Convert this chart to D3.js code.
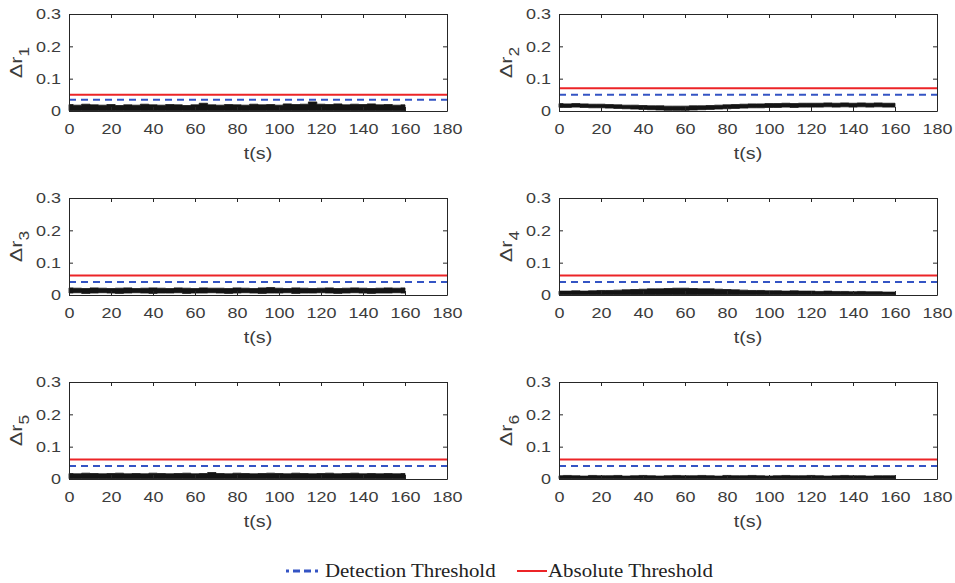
<!DOCTYPE html>
<html>
<head>
<meta charset="utf-8">
<script src="https://cdn.jsdelivr.net/npm/d3@7"></script>
<style>
  html, body { margin: 0; padding: 0; background: #fff; }
  svg { display: block; }
  .tick text { font-family: "Liberation Sans", Arial, sans-serif; }
</style>
</head>
<body>
<svg id="chart" width="955" height="583"></svg>
<script>
// Sample times (s) of the residual envelopes
const times = d3.range(0, 161, 4);

// Upper and lower envelopes of each residual trace |Δr_i(t)|
const upper1 = [0.020,0.018,0.021,0.019,0.018,0.020,0.017,0.019,0.018,0.021,0.019,0.018,0.020,0.019,0.017,0.019,0.024,0.019,0.018,0.020,0.019,0.018,0.021,0.019,0.020,0.018,0.022,0.020,0.021,0.028,0.021,0.020,0.022,0.019,0.021,0.020,0.022,0.019,0.020,0.018,0.019];
const lower1 = [0.001,0.001,0.001,0.001,0.001,0.001,0.001,0.001,0.001,0.001,0.001,0.001,0.001,0.001,0.001,0.001,0.001,0.001,0.001,0.001,0.001,0.001,0.001,0.001,0.001,0.001,0.001,0.001,0.001,0.001,0.001,0.001,0.001,0.001,0.001,0.001,0.001,0.001,0.001,0.001,0.001];

const upper2 = [0.023,0.022,0.023,0.022,0.021,0.021,0.020,0.019,0.018,0.018,0.017,0.016,0.016,0.015,0.015,0.015,0.016,0.016,0.017,0.018,0.019,0.020,0.021,0.022,0.022,0.023,0.023,0.024,0.023,0.024,0.024,0.024,0.025,0.024,0.025,0.024,0.025,0.024,0.025,0.024,0.024];
const lower2 = [0.011,0.011,0.012,0.011,0.010,0.010,0.009,0.008,0.007,0.006,0.005,0.004,0.003,0.002,0.002,0.002,0.003,0.004,0.005,0.006,0.007,0.008,0.009,0.010,0.010,0.011,0.011,0.012,0.011,0.012,0.012,0.012,0.013,0.012,0.013,0.012,0.013,0.012,0.013,0.012,0.012];

const upper3 = [0.022,0.021,0.020,0.022,0.021,0.020,0.021,0.022,0.020,0.021,0.022,0.021,0.020,0.022,0.021,0.020,0.022,0.021,0.021,0.020,0.022,0.021,0.020,0.022,0.023,0.021,0.020,0.022,0.021,0.020,0.021,0.022,0.020,0.021,0.022,0.021,0.020,0.021,0.022,0.021,0.022];
const lower3 = [0.006,0.007,0.005,0.006,0.007,0.006,0.005,0.006,0.007,0.006,0.005,0.006,0.006,0.007,0.005,0.006,0.006,0.007,0.006,0.005,0.006,0.007,0.006,0.005,0.006,0.006,0.007,0.005,0.006,0.006,0.007,0.006,0.005,0.006,0.007,0.006,0.005,0.006,0.006,0.007,0.006];

const upper4 = [0.012,0.012,0.013,0.012,0.013,0.014,0.014,0.015,0.016,0.017,0.018,0.019,0.019,0.020,0.021,0.021,0.020,0.019,0.019,0.018,0.017,0.016,0.015,0.014,0.014,0.013,0.013,0.012,0.013,0.012,0.012,0.011,0.012,0.011,0.011,0.010,0.011,0.010,0.010,0.009,0.009];
const lower4 = [0.001,0.001,0.001,0.001,0.001,0.001,0.001,0.001,0.001,0.001,0.001,0.001,0.001,0.001,0.001,0.001,0.001,0.001,0.001,0.001,0.001,0.001,0.001,0.001,0.001,0.001,0.001,0.001,0.001,0.001,0.001,0.001,0.001,0.001,0.001,0.001,0.001,0.001,0.001,0.001,0.001];

const upper5 = [0.017,0.016,0.018,0.017,0.016,0.017,0.018,0.016,0.017,0.016,0.018,0.017,0.016,0.017,0.018,0.016,0.017,0.020,0.017,0.016,0.018,0.017,0.016,0.017,0.018,0.017,0.016,0.018,0.017,0.016,0.017,0.018,0.016,0.017,0.018,0.016,0.017,0.016,0.017,0.016,0.017];
const lower5 = [0.001,0.001,0.001,0.001,0.001,0.001,0.001,0.001,0.001,0.001,0.001,0.001,0.001,0.001,0.001,0.001,0.001,0.001,0.001,0.001,0.001,0.001,0.001,0.001,0.001,0.001,0.001,0.001,0.001,0.001,0.001,0.001,0.001,0.001,0.001,0.001,0.001,0.001,0.001,0.001,0.001];

const upper6 = [0.010,0.011,0.010,0.009,0.011,0.010,0.010,0.011,0.009,0.010,0.011,0.010,0.009,0.010,0.011,0.010,0.010,0.011,0.010,0.009,0.011,0.010,0.010,0.011,0.010,0.009,0.010,0.011,0.010,0.010,0.011,0.010,0.009,0.010,0.011,0.010,0.010,0.009,0.010,0.010,0.010];
const lower6 = [0.001,0.001,0.001,0.001,0.001,0.001,0.001,0.001,0.001,0.001,0.001,0.001,0.001,0.001,0.001,0.001,0.001,0.001,0.001,0.001,0.001,0.001,0.001,0.001,0.001,0.001,0.001,0.001,0.001,0.001,0.001,0.001,0.001,0.001,0.001,0.001,0.001,0.001,0.001,0.001,0.001];

// Thresholds per residual
const detectionThreshold = [0.035, 0.05, 0.04, 0.04, 0.04, 0.04];
const absoluteThreshold  = [0.05, 0.07, 0.06, 0.06, 0.06, 0.06];

// Axis ticks
const xTicks = [0, 20, 40, 60, 80, 100, 120, 140, 160, 180];
const yTicks = [0, 0.1, 0.2, 0.3];
const xLabel = "t(s)";
const legendLabels = ["Detection Threshold", "Absolute Threshold"];

const uppers = [upper1, upper2, upper3, upper4, upper5, upper6];
const lowers = [lower1, lower2, lower3, lower4, lower5, lower6];

const svg = d3.select("#chart");
const axisColor = "#262626";
const textColor = "#3c3c3c";
const blue = "#3454c4";
const red = "#ec2427";
const sans = "Liberation Sans, Arial, sans-serif";
const serif = "Liberation Serif, Times New Roman, serif";
const stretch = 1.16;   // wide lettering

const colLeft = [69, 559];
const rowTop = [14, 198, 382];
const W = 378, H = 97;

const x = d3.scaleLinear().domain([0, 180]).range([0, W]);
const y = d3.scaleLinear().domain([0, 0.3]).range([H, 0]);

uppers.forEach((up, i) => {
  const lo = lowers[i];
  const g = svg.append("g")
    .attr("transform", `translate(${colLeft[i % 2]},${rowTop[Math.floor(i / 2)]})`);

  // residual band
  const band = times.map((t, k) => ({ t, hi: up[k], lo: lo[k] }));
  g.append("path")
    .datum(band)
    .attr("fill", "#141414")
    .attr("stroke", "#141414")
    .attr("stroke-width", 0.8)
    .attr("d", d3.area()
      .x(d => x(d.t))
      .y0(d => y(d.lo))
      .y1(d => y(d.hi))
      .curve(d3.curveStep));

  // thresholds
  g.append("line")
    .attr("x1", x(0)).attr("x2", x(180))
    .attr("y1", y(absoluteThreshold[i])).attr("y2", y(absoluteThreshold[i]))
    .attr("stroke", red).attr("stroke-width", 2);
  g.append("line")
    .attr("x1", x(0)).attr("x2", x(180))
    .attr("y1", y(detectionThreshold[i])).attr("y2", y(detectionThreshold[i]))
    .attr("stroke", blue).attr("stroke-width", 2)
    .attr("stroke-dasharray", "7,5");

  // axes (ticks inward, boxed)
  const fmtY = d => d === 0 ? "0" : d3.format(".1f")(d);
  const bottom = g.append("g").attr("transform", `translate(0,${H})`)
    .call(d3.axisBottom(x).tickValues(xTicks).tickSize(-4).tickPadding(12).tickSizeOuter(0));
  const left = g.append("g")
    .call(d3.axisLeft(y).tickValues(yTicks).tickFormat(fmtY).tickSize(-4).tickPadding(7).tickSizeOuter(0));
  const top = g.append("g")
    .call(d3.axisTop(x).tickValues(xTicks).tickSize(-4).tickFormat("").tickSizeOuter(0));
  const right = g.append("g").attr("transform", `translate(${W},0)`)
    .call(d3.axisRight(y).tickValues(yTicks).tickSize(-4).tickFormat("").tickSizeOuter(0));
  [bottom, left, top, right].forEach(a => {
    a.select(".domain").attr("stroke", axisColor).attr("stroke-width", 1);
    a.selectAll(".tick line").attr("stroke", axisColor).attr("stroke-width", 1);
    a.selectAll(".tick text").attr("fill", textColor).attr("font-size", 15.5)
      .attr("transform", `scale(${stretch},1)`);
  });

  // x label
  g.append("text")
    .attr("transform", `translate(${W / 2},${H + 48}) scale(${stretch},1)`)
    .attr("text-anchor", "middle")
    .attr("font-family", sans)
    .attr("font-size", 17).attr("fill", textColor)
    .text(xLabel);

  // y label Δr_i
  const yl = g.append("text")
    .attr("transform", `translate(-47,${H / 2}) rotate(-90) scale(1.45,${stretch})`)
    .attr("text-anchor", "middle")
    .attr("font-family", sans)
    .attr("font-size", 15).attr("fill", textColor);
  yl.append("tspan").text("Δr");
  yl.append("tspan").attr("dy", 6).attr("font-size", 12).text(String(i + 1));
});

// legend
const lg = svg.append("g");
lg.append("line").attr("x1", 286).attr("x2", 318).attr("y1", 571).attr("y2", 571)
  .attr("stroke", blue).attr("stroke-width", 3).attr("stroke-dasharray", "3,4,7,4,7,4,7");
lg.append("text").attr("transform", `translate(325,577) scale(${stretch},1)`)
  .attr("font-family", serif)
  .attr("font-size", 18).attr("fill", "#222").text(legendLabels[0]);
lg.append("line").attr("x1", 517).attr("x2", 547).attr("y1", 571).attr("y2", 571)
  .attr("stroke", red).attr("stroke-width", 2);
lg.append("text").attr("transform", `translate(548,577) scale(${stretch},1)`)
  .attr("font-family", serif)
  .attr("font-size", 18).attr("fill", "#222").text(legendLabels[1]);
</script>
</body>
</html>
